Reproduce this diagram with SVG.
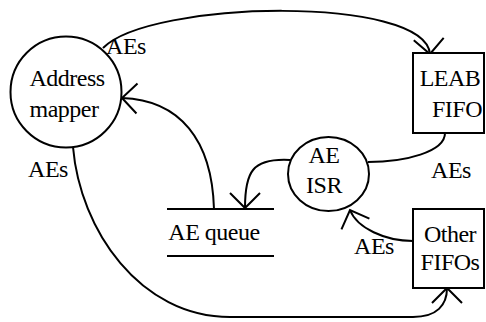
<svg xmlns="http://www.w3.org/2000/svg" width="486" height="322" viewBox="0 0 486 322">
  <defs>
    <style>
      .shape { fill: #fff; stroke: #000; stroke-width: 2; }
      .line { fill: none; stroke: #000; stroke-width: 2; }
      .label { font-family: "Liberation Serif", "Times New Roman", serif; font-size: 24px; letter-spacing: -0.5px; fill: #000; text-anchor: middle; }
    </style>
    <!-- open V arrowhead -->
    <marker id="head" markerUnits="userSpaceOnUse" markerWidth="40" markerHeight="40" viewBox="-20 -20 40 40" refX="0" refY="0" orient="auto" overflow="visible">
      <path d="M-15,-15 L0,0 L-15,15" fill="none" stroke="#000" stroke-width="2"/>
    </marker>
  </defs>
  <rect width="486" height="322" fill="#fff"/>

  <g id="connectors">
    <!-- Address mapper -> LEAB FIFO -->
    <path class="line" d="M103,48 C150,0 425,-5 430,54" marker-end="url(#head)"/>
    <!-- AE queue -> Address mapper -->
    <path class="line" d="M214,209 C212,140 180,100 122,98" marker-end="url(#head)"/>
    <!-- AE ISR -> AE queue -->
    <path class="line" d="M290,160 C252,158 245,172 245,208" marker-end="url(#head)"/>
    <!-- LEAB FIFO -> AE ISR -->
    <path class="line" d="M445,133 C445,152 405,162 368,162"/>
    <!-- Other FIFOs -> AE ISR -->
    <path class="line" d="M413,241 C385,241 357,228 350,210" marker-end="url(#head)"/>
    <!-- Address mapper -> Other FIFOs -->
    <path class="line" d="M73,147 C80,230 140,317 230,317 L413,317 C437,317 447,305 447,288" marker-end="url(#head)"/>
    <text class="label" x="126" y="54">AEs</text>
    <text class="label" x="48" y="177">AEs</text>
    <text class="label" x="451" y="178">AEs</text>
    <text class="label" x="374" y="254">AEs</text>
  </g>

  <g id="address-mapper">
    <circle class="shape" cx="66" cy="92" r="55.5"/>
    <text class="label" x="67" y="86">Address</text>
    <text class="label" x="64" y="117">mapper</text>
  </g>

  <g id="leab-fifo">
    <rect class="shape" x="413" y="53" width="71" height="80"/>
    <text class="label" x="450" y="86">LEAB</text>
    <text class="label" x="457" y="117">FIFO</text>
  </g>

  <g id="ae-isr">
    <ellipse class="shape" cx="328.5" cy="174" rx="40.5" ry="37"/>
    <text class="label" x="324" y="163">AE</text>
    <text class="label" x="324" y="193">ISR</text>
  </g>

  <g id="ae-queue">
    <line class="line" x1="167" y1="209" x2="274" y2="209"/>
    <line class="line" x1="167" y1="256" x2="274" y2="256"/>
    <text class="label" x="214" y="240">AE queue</text>
  </g>

  <g id="other-fifos">
    <rect class="shape" x="413" y="209" width="71" height="79"/>
    <text class="label" x="450" y="242">Other</text>
    <text class="label" x="450" y="270">FIFOs</text>
  </g>
</svg>
